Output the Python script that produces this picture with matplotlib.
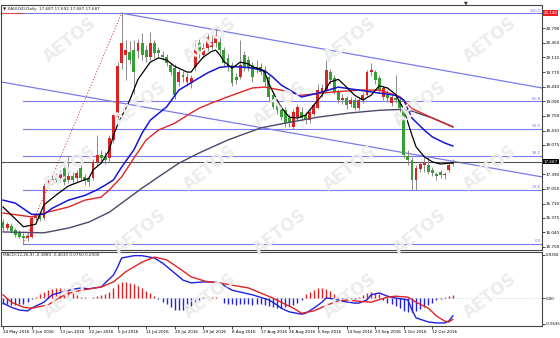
import matplotlib
matplotlib.use("Agg")
import matplotlib.pyplot as plt
import matplotlib.transforms as mtrans

W, H = 560, 338

# XAGUSD daily candles, bar 0 = 24 May 2016
opens = [16.28, 16.14, 16.19, 16.10, 16.05, 15.96, 15.91, 15.94, 16.38, 16.42,
         16.37, 17.12, 17.23, 17.33, 17.30, 17.54, 17.26, 17.35, 17.30, 17.54,
         17.33, 17.28, 17.30, 17.68, 17.84, 17.79, 17.77, 18.19, 18.72, 19.98,
         20.17, 20.23, 20.28, 20.26, 20.44, 20.28, 20.12, 20.44, 20.28, 20.17,
         20.12, 19.93, 19.86, 19.54, 19.70, 19.54, 19.51, 19.89, 20.44, 20.17,
         20.33, 20.35, 20.44, 20.47, 20.28, 20.10, 19.93, 19.65, 19.65, 20.17,
         20.05, 19.93, 19.89, 19.89, 19.82, 19.65, 19.23, 19.00, 18.93, 18.89,
         18.70, 18.49, 18.72, 18.84, 18.77, 18.65, 18.80, 18.93, 19.30, 19.35,
         19.77, 19.63, 19.30, 19.12, 19.16, 19.02, 19.12, 18.93, 19.12, 19.23,
         19.77, 19.77, 19.63, 19.19, 19.23, 19.05, 19.16, 19.12, 18.93, 17.82,
         17.72, 17.26, 17.51, 17.61, 17.61, 17.49, 17.40, 17.44, 17.37, 17.49,
         17.63]
highs = [16.35, 16.28, 16.25, 16.14, 16.10, 16.02, 16.05, 16.42, 16.50, 16.48,
         17.18, 17.35, 17.38, 17.42, 17.48, 17.60, 17.79, 17.45, 17.50, 17.60,
         17.40, 17.35, 17.75, 18.30, 17.95, 17.90, 18.30, 18.80, 20.00, 21.14,
         20.51, 20.50, 20.52, 20.55, 20.68, 20.40, 20.70, 20.52, 20.35, 20.25,
         20.20, 20.00, 19.95, 19.85, 19.80, 19.75, 19.70, 20.51, 20.55, 20.45,
         20.65, 20.79, 20.79, 20.60, 20.35, 20.20, 20.00, 19.75, 20.51, 20.25,
         20.15, 20.00, 20.05, 19.98, 19.90, 19.70, 19.30, 19.05, 19.00, 18.95,
         18.80, 18.90, 19.02, 18.95, 18.85, 18.90, 19.05, 19.50, 19.50, 20.05,
         19.85, 19.70, 19.38, 19.25, 19.22, 19.20, 19.20, 19.18, 19.30, 19.82,
         19.97, 19.82, 19.70, 19.45, 19.35, 19.25, 19.70, 19.18, 18.98, 17.95,
         17.80, 17.60, 17.68, 17.79, 17.79, 17.55, 17.45, 17.50, 17.45, 17.65,
         17.74]
lows = [16.07, 16.10, 16.03, 15.94, 15.90, 15.77, 15.85, 15.90, 16.32, 16.30,
        16.32, 17.05, 17.15, 17.18, 17.22, 17.15, 17.20, 17.18, 17.22, 17.25,
        17.15, 17.12, 17.25, 17.60, 17.65, 17.62, 17.70, 18.12, 18.65, 19.85,
        19.58, 19.95, 19.25, 20.10, 20.05, 20.00, 20.05, 20.10, 20.12, 20.05,
        19.90, 19.70, 19.15, 19.45, 19.55, 19.45, 19.40, 19.80, 20.10, 20.10,
        20.25, 20.30, 20.35, 20.20, 19.90, 19.80, 19.45, 19.50, 19.60, 19.80,
        19.80, 19.55, 19.75, 19.70, 19.45, 19.10, 18.90, 18.80, 18.65, 18.50,
        18.50, 18.45, 18.65, 18.62, 18.55, 18.58, 18.75, 18.90, 19.20, 19.30,
        19.50, 19.25, 19.05, 19.02, 18.92, 18.95, 18.88, 18.88, 19.05, 19.18,
        19.68, 19.50, 19.28, 19.12, 19.08, 18.98, 19.05, 18.85, 17.78, 17.61,
        17.03, 17.03, 17.45, 17.45, 17.40, 17.35, 17.26, 17.30, 17.28, 17.45,
        17.58]
closes = [16.14, 16.23, 16.07, 15.98, 15.93, 15.91, 15.96, 16.38, 16.42, 16.35,
          17.12, 17.23, 17.28, 17.26, 17.40, 17.21, 17.35, 17.26, 17.42, 17.30,
          17.23, 17.21, 17.68, 17.84, 17.77, 17.72, 18.24, 18.77, 19.90, 20.44,
          20.28, 20.05, 19.77, 20.45, 20.17, 20.12, 20.44, 20.21, 20.21, 20.12,
          19.98, 19.77, 19.23, 19.77, 19.65, 19.65, 19.63, 20.28, 20.21, 20.33,
          20.58, 20.47, 20.63, 20.28, 19.98, 19.89, 19.51, 19.58, 19.93, 19.89,
          19.86, 19.65, 19.84, 19.77, 19.54, 19.19, 18.96, 18.89, 18.72, 18.58,
          18.58, 18.84, 18.96, 18.70, 18.65, 18.84, 19.00, 19.35, 19.40, 19.82,
          19.58, 19.30, 19.12, 19.16, 19.00, 19.12, 18.93, 19.12, 19.23, 19.77,
          19.82, 19.58, 19.35, 19.40, 19.16, 19.19, 19.12, 18.93, 17.84, 17.72,
          17.26, 17.54, 17.63, 17.65, 17.45, 17.42, 17.35, 17.38, 17.40, 17.61,
          17.687]

# moving averages (bar, price)
ma_black_x = [0, 5, 8, 10, 13, 16, 19, 21, 22, 24, 26, 27, 28, 31, 33, 36, 38, 40, 42, 43,
              45, 46, 47, 49, 51, 52, 53, 54, 56, 58, 60, 61, 63, 64, 65, 67, 68, 70, 72, 74,
              76, 78, 80, 82, 84, 86, 88, 90, 92, 94, 96, 98, 100, 101, 103, 105, 107, 109, 110]
ma_black_y = [16.63, 16.17, 16.23, 16.68, 16.91, 17.12, 17.23, 17.30, 17.49, 17.65,
              17.96, 18.30, 18.54, 19.12, 19.60, 20.00, 20.10, 20.05, 19.90, 19.86,
              19.77, 19.77, 19.90, 20.12, 20.25, 20.28, 20.17, 20.02, 19.86, 20.00,
              19.96, 19.89, 19.84, 19.77, 19.50, 19.12, 18.95, 18.72, 18.70, 18.77,
              19.00, 19.23, 19.54, 19.60, 19.42, 19.23, 19.12, 19.23, 19.45, 19.40,
              19.25, 18.90, 18.30, 18.03, 17.80, 17.68, 17.63, 17.65, 17.66]
ma_blue_x = [0, 3, 7, 10, 12, 16, 20, 23, 25, 27, 29, 32, 34, 36, 40, 43, 47, 50, 53, 55,
             58, 61, 64, 66, 68, 71, 73, 77, 82, 87, 92, 96, 98, 100, 103, 105, 108, 110]
ma_blue_y = [16.79, 16.72, 16.46, 16.46, 16.60, 16.79, 16.90, 17.03, 17.14, 17.26,
             17.56, 17.96, 18.35, 18.65, 18.96, 19.35, 19.58, 19.75, 19.88, 19.90,
             19.89, 19.86, 19.80, 19.65, 19.47, 19.30, 19.19, 19.28, 19.42, 19.35,
             19.28, 19.23, 19.12, 18.70, 18.42, 18.26, 18.12, 18.05]
ma_red_x = [0, 7, 10, 16, 20, 24, 26, 29, 32, 35, 38, 42, 46, 48, 51, 56, 61, 64, 68, 73,
            80, 87, 92, 97, 100, 105, 110]
ma_red_y = [16.49, 16.40, 16.49, 16.63, 16.79, 16.86, 17.03, 17.33, 17.77, 18.19,
            18.42, 18.58, 18.82, 18.93, 19.05, 19.23, 19.40, 19.42, 19.35, 19.23,
            19.30, 19.35, 19.35, 19.20, 18.92, 18.70, 18.49]
ma_slate_x = [0, 10, 16, 21, 26, 30, 34, 38, 43, 48, 55, 63, 70, 77, 85, 92, 97, 100, 105, 110]
ma_slate_y = [16.05, 16.03, 16.14, 16.28, 16.51, 16.79, 17.07, 17.33, 17.65, 17.89,
              18.19, 18.47, 18.60, 18.72, 18.82, 18.88, 18.90, 18.86, 18.70, 18.50]

# MACD(12,26,9)
macd_x = [0, 2, 4, 6, 7, 10, 12, 16, 19, 21, 24, 25, 27, 28, 29, 32, 34, 37, 39, 42,
          44, 46, 49, 51, 53, 56, 58, 61, 65, 67, 68, 70, 73, 74, 76, 78, 79, 81, 83, 86,
          87, 89, 90, 92, 94, 96, 99, 100, 101, 104, 106, 108, 109, 110]
macd_y = [-0.11, -0.20, -0.26, -0.28, -0.22, -0.09, 0.07, 0.17, 0.22, 0.20,
          0.24, 0.33, 0.50, 0.67, 0.87, 0.92, 0.92, 0.87, 0.76, 0.54,
          0.39, 0.33, 0.35, 0.35, 0.33, 0.17, 0.13, 0.07, -0.04, -0.15,
          -0.22, -0.30, -0.35, -0.33, -0.22, -0.09, 0.00, -0.02, -0.07, -0.11,
          -0.11, -0.04, 0.07, 0.11, 0.04, 0.00, -0.04, -0.26, -0.43, -0.52,
          -0.54, -0.54, -0.50, -0.388]
signal_x = [0, 2, 5, 7, 11, 14, 17, 21, 24, 27, 30, 34, 37, 40, 43, 46, 50, 53, 56, 60,
            63, 66, 68, 71, 73, 76, 78, 81, 84, 87, 90, 94, 96, 99, 101, 104, 106, 108, 109, 110]
signal_y = [0.07, -0.09, -0.20, -0.22, -0.15, 0.02, 0.13, 0.20, 0.24, 0.35,
            0.57, 0.78, 0.89, 0.83, 0.65, 0.46, 0.35, 0.33, 0.28, 0.22,
            0.11, 0.00, -0.09, -0.22, -0.33, -0.28, -0.20, -0.09, -0.04, -0.07,
            -0.09, 0.02, 0.04, 0.02, -0.09, -0.22, -0.39, -0.50, -0.52, -0.463]
osma = [-0.12, -0.14, -0.15, -0.15, -0.14, -0.12, -0.08, -0.03, 0.03, 0.08,
        0.14, 0.18, 0.20, 0.22, 0.21, 0.19, 0.15, 0.10, 0.06, 0.03,
        0.02, 0.01, 0.02, 0.04, 0.06, 0.08, 0.14, 0.22, 0.30, 0.34,
        0.35, 0.33, 0.30, 0.26, 0.21, 0.16, 0.11, 0.05, -0.03, -0.08,
        -0.14, -0.20, -0.25, -0.26, -0.25, -0.22, -0.17, -0.11, -0.06, 0.02,
        0.03, 0.03, 0.02, 0.01, -0.10, -0.12, -0.14, -0.15, -0.14, -0.14,
        -0.14, -0.15, -0.14, -0.14, -0.15, -0.17, -0.19, -0.21, -0.22, -0.20,
        -0.18, -0.15, -0.10, -0.05, 0.08, 0.13, 0.18, 0.21, 0.22, 0.20,
        0.15, 0.08, 0.03, -0.02, -0.03, -0.03, -0.02, 0.02, 0.06, 0.10,
        0.13, 0.12, 0.08, -0.04, -0.10, -0.14, -0.17, -0.22, -0.28, -0.30,
        -0.30, -0.28, -0.24, -0.20, -0.15, -0.10, -0.05, -0.02, 0.03, 0.05,
        0.075]

# drawing objects
fib_low_bar, fib_low = 5, 15.77
fib_high_bar, fib_high = 29, 21.14
fib_levels = [0.0, 23.6, 38.2, 50.0, 61.8, 100.0]
chan_upper = ([29, 131.8], [21.14, 19.40])
chan_lower = ([-0.5, 131.8], [19.54, 17.33])
last_price = 17.687

date_bars = [0, 7, 14, 21, 28, 35, 42, 49, 56, 63, 70, 77, 84, 91, 98, 105]
date_labels = ["24 May 2016", "3 Jun 2016", "13 Jun 2016", "22 Jun 2016", "5 Jul 2016",
               "11 Jul 2016", "20 Jul 2016", "29 Jul 2016", "8 Aug 2016", "17 Aug 2016",
               "26 Aug 2016", "6 Sep 2016", "14 Sep 2016", "23 Sep 2016", "3 Oct 2016",
               "12 Oct 2016"]
price_ticks = [15.700, 16.040, 16.375, 16.710, 17.050, 17.390, 18.075, 18.410,
               18.750, 19.090, 19.430, 19.770, 20.110, 20.450, 20.790]
price_labels = ["15.700", "16.040", "16.375", "16.710", "17.050", "17.390", "18.075",
                "18.410", "18.750", "19.090", "19.430", "19.770", "20.110", "20.450", "20.790"]

UP, DOWN, WICK = "#dc2222", "#34a034", "#8a8a8a"
FIBC = "#7a7aee"
FS = 3.0

fig = plt.figure(figsize=(W / 100, H / 100), dpi=100)
fig.patch.set_facecolor("white")
ax = fig.add_axes([1 / W, (H - 250) / H, 541 / W, 245 / H])
ax2 = fig.add_axes([1 / W, (H - 326) / H, 541 / W, 74 / H])

XMIN, XMAX = -0.5, 131.8

# faint broker watermark
for row, wy in enumerate(range(40, 300, 64)):
    for wx in range(70 + (row % 2) * 70, 520, 140):
        fig.text(wx / W, 1 - wy / H, "AETOS", fontsize=12, fontweight="bold",
                 color="#ececec", rotation=38, ha="center", va="center", zorder=0)

for a in (ax, ax2):
    a.set_facecolor("none")
    a.set_xlim(XMIN, XMAX)
    for s in a.spines.values():
        s.set_color("#444444")
        s.set_linewidth(0.8)

# price panel
ax.set_ylim(15.63, 21.33)
n = len(opens)
bars = list(range(n))
ax.vlines(bars, lows, highs, color=WICK, lw=0.7, zorder=2)
bottoms = [min(o, c) for o, c in zip(opens, closes)]
heights = [max(abs(c - o), 0.012) for o, c in zip(opens, closes)]
cols = [UP if c >= o else DOWN for o, c in zip(opens, closes)]
ax.bar(bars, heights, bottom=bottoms, width=0.7, color=cols, linewidth=0, zorder=3)

ax.plot(ma_slate_x, ma_slate_y, color="#4e4668", lw=1.0, zorder=4)
ax.plot(ma_red_x, ma_red_y, color="#e02424", lw=1.0, zorder=4)
ax.plot(ma_blue_x, ma_blue_y, color="#1515d8", lw=1.1, zorder=4)
ax.plot(ma_black_x, ma_black_y, color="black", lw=0.9, zorder=5)

span = fib_high - fib_low
for lv in fib_levels:
    p = fib_low + span * lv / 100
    start = XMIN if lv == 100.0 else fib_low_bar
    ax.plot([start, XMAX], [p, p], color=FIBC, lw=0.8, zorder=1)
    ax.text(XMAX - 0.3, p + 0.015, f"{lv:.1f}", fontsize=FS, color=FIBC,
            ha="right", va="bottom", zorder=6)
ax.plot([XMIN, 5], [fib_high, fib_high], color="#e05050", lw=0.8, zorder=1)
ax.plot([fib_low_bar, fib_high_bar], [fib_low, fib_high], color="#e04040",
        lw=0.7, ls=(0, (1.2, 1.8)), zorder=1)
ax.plot(*chan_upper, color=FIBC, lw=0.9, zorder=1)
ax.plot(*chan_lower, color=FIBC, lw=0.9, zorder=1)
ax.axhline(last_price, color="#555555", lw=0.8, zorder=1)

ax.yaxis.tick_right()
ax.set_yticks(price_ticks)
ax.set_yticklabels(price_labels)
ax.tick_params(axis="y", labelsize=FS, length=2, pad=0.8, width=0.5)
ax.set_xticks([])
trans = mtrans.blended_transform_factory(ax.transAxes, ax.transData)
ax.text(1.003, fib_high, "21.140", transform=trans, fontsize=FS, color="white",
        va="center", ha="left", bbox=dict(boxstyle="square,pad=0.2", fc="#ee1c1c", ec="none"))
ax.text(1.003, last_price, "17.687", transform=trans, fontsize=FS, color="white",
        va="center", ha="left", bbox=dict(boxstyle="square,pad=0.2", fc="black", ec="none"))
ax.text(0.004, 0.993, "\u25bc XAGUSD,Daily  17.687 17.692 17.687 17.687", transform=ax.transAxes,
        fontsize=FS, va="top", ha="left", color="#222222")
fig.text(466 / W, 1 - 2.5 / H, "\u25bc", fontsize=3.5, color="#333333", ha="center", va="center")

# MACD panel
ax2.set_ylim(-0.607, 1.0)
ocol = [UP if v >= 0 else "#2222dd" for v in osma]
ax2.vlines(bars, 0, osma, colors=ocol, lw=1.0, zorder=2)
ax2.plot(macd_x, macd_y, color="#2020e0", lw=1.0, zorder=3)
ax2.plot(signal_x, signal_y, color="#e02424", lw=1.0, zorder=3)
ax2.axhline(0, color="#d0d0d0", lw=0.5, ls=(0, (2, 2)), zorder=1)
ax2.yaxis.tick_right()
ax2.set_yticks([0.9356, 0.0, -0.5635])
ax2.set_yticklabels(["0.9356", "0.00", "-0.5635"])
ax2.tick_params(axis="y", labelsize=FS - 0.2, length=2, pad=0.6, width=0.5)
ax2.set_xticks(date_bars)
ax2.set_xticklabels(date_labels, ha="left")
ax2.tick_params(axis="x", labelsize=FS, length=2, pad=1.0, width=0.5)
ax2.text(0.004, 0.985, "MACD(12,26,9) -0.3880 -0.4630 0.0750 0.0000", transform=ax2.transAxes,
         fontsize=FS, va="top", ha="left", color="#222222")

fig.savefig("out.png", dpi=100, facecolor="white")
